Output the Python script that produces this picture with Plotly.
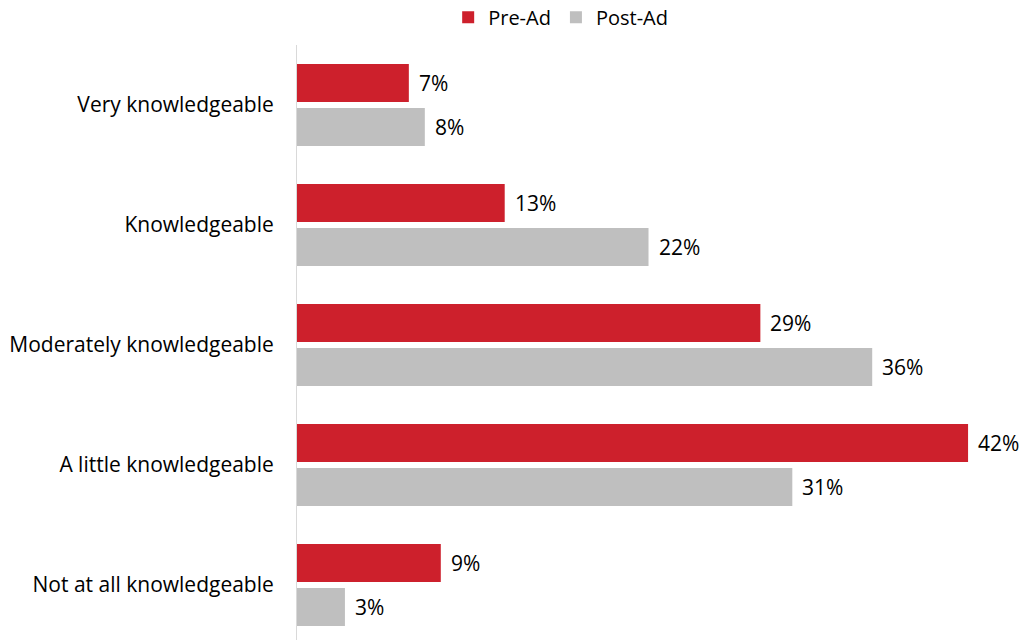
import plotly.graph_objects as go

categories = ["Very knowledgeable", "Knowledgeable", "Moderately knowledgeable",
              "A little knowledgeable", "Not at all knowledgeable"]
pre_ad = [7, 13, 29, 42, 9]
post_ad = [8, 22, 36, 31, 3]

FONT = "Open Sans"
RED = "#CD202C"
GREY = "#BFBFBF"
BAR_OFFSET = 0.183  # half the distance between the two bars of a group, in category units

fig = go.Figure()
fig.add_trace(go.Bar(
    y=categories, x=pre_ad, name="Pre-Ad", orientation="h",
    marker=dict(color=RED, line=dict(width=0)),
))
fig.add_trace(go.Bar(
    y=categories, x=post_ad, name="Post-Ad", orientation="h",
    marker=dict(color=GREY, line=dict(width=0)),
))

# value labels placed just past the end of each bar
for i, (a, b) in enumerate(zip(pre_ad, post_ad)):
    for val, dy in ((a, -BAR_OFFSET), (b, BAR_OFFSET)):
        fig.add_annotation(
            x=val, y=i + dy, xref="x", yref="y", text=f"{val}%",
            showarrow=False, xanchor="left", yanchor="middle", xshift=8,
            font=dict(family=FONT, size=21, color="#000000"),
        )

fig.update_layout(
    width=1025, height=640,
    margin=dict(l=297, r=9, t=45, b=0, autoexpand=False),
    paper_bgcolor="white", plot_bgcolor="white",
    barmode="group", bargap=0.267, bargroupgap=0.136,
    font=dict(family=FONT, size=21, color="#000000"),
    showlegend=True,
    legend=dict(orientation="h", xref="container", yref="container",
                x=0.547, y=0.973, xanchor="center", yanchor="middle",
                font=dict(family=FONT, size=20, color="#000000"),
                traceorder="normal"),
    xaxis=dict(range=[0, 45], visible=False, showgrid=False, zeroline=False),
    yaxis=dict(categoryorder="array", categoryarray=categories,
               range=[4.458, -0.5], showgrid=False, zeroline=False,
               showline=True, linecolor="#D9D9D9", linewidth=1,
               ticks="", ticklabelstandoff=18,
               tickfont=dict(family=FONT, size=21, color="#000000")),
)

fig.write_html("out.html")
